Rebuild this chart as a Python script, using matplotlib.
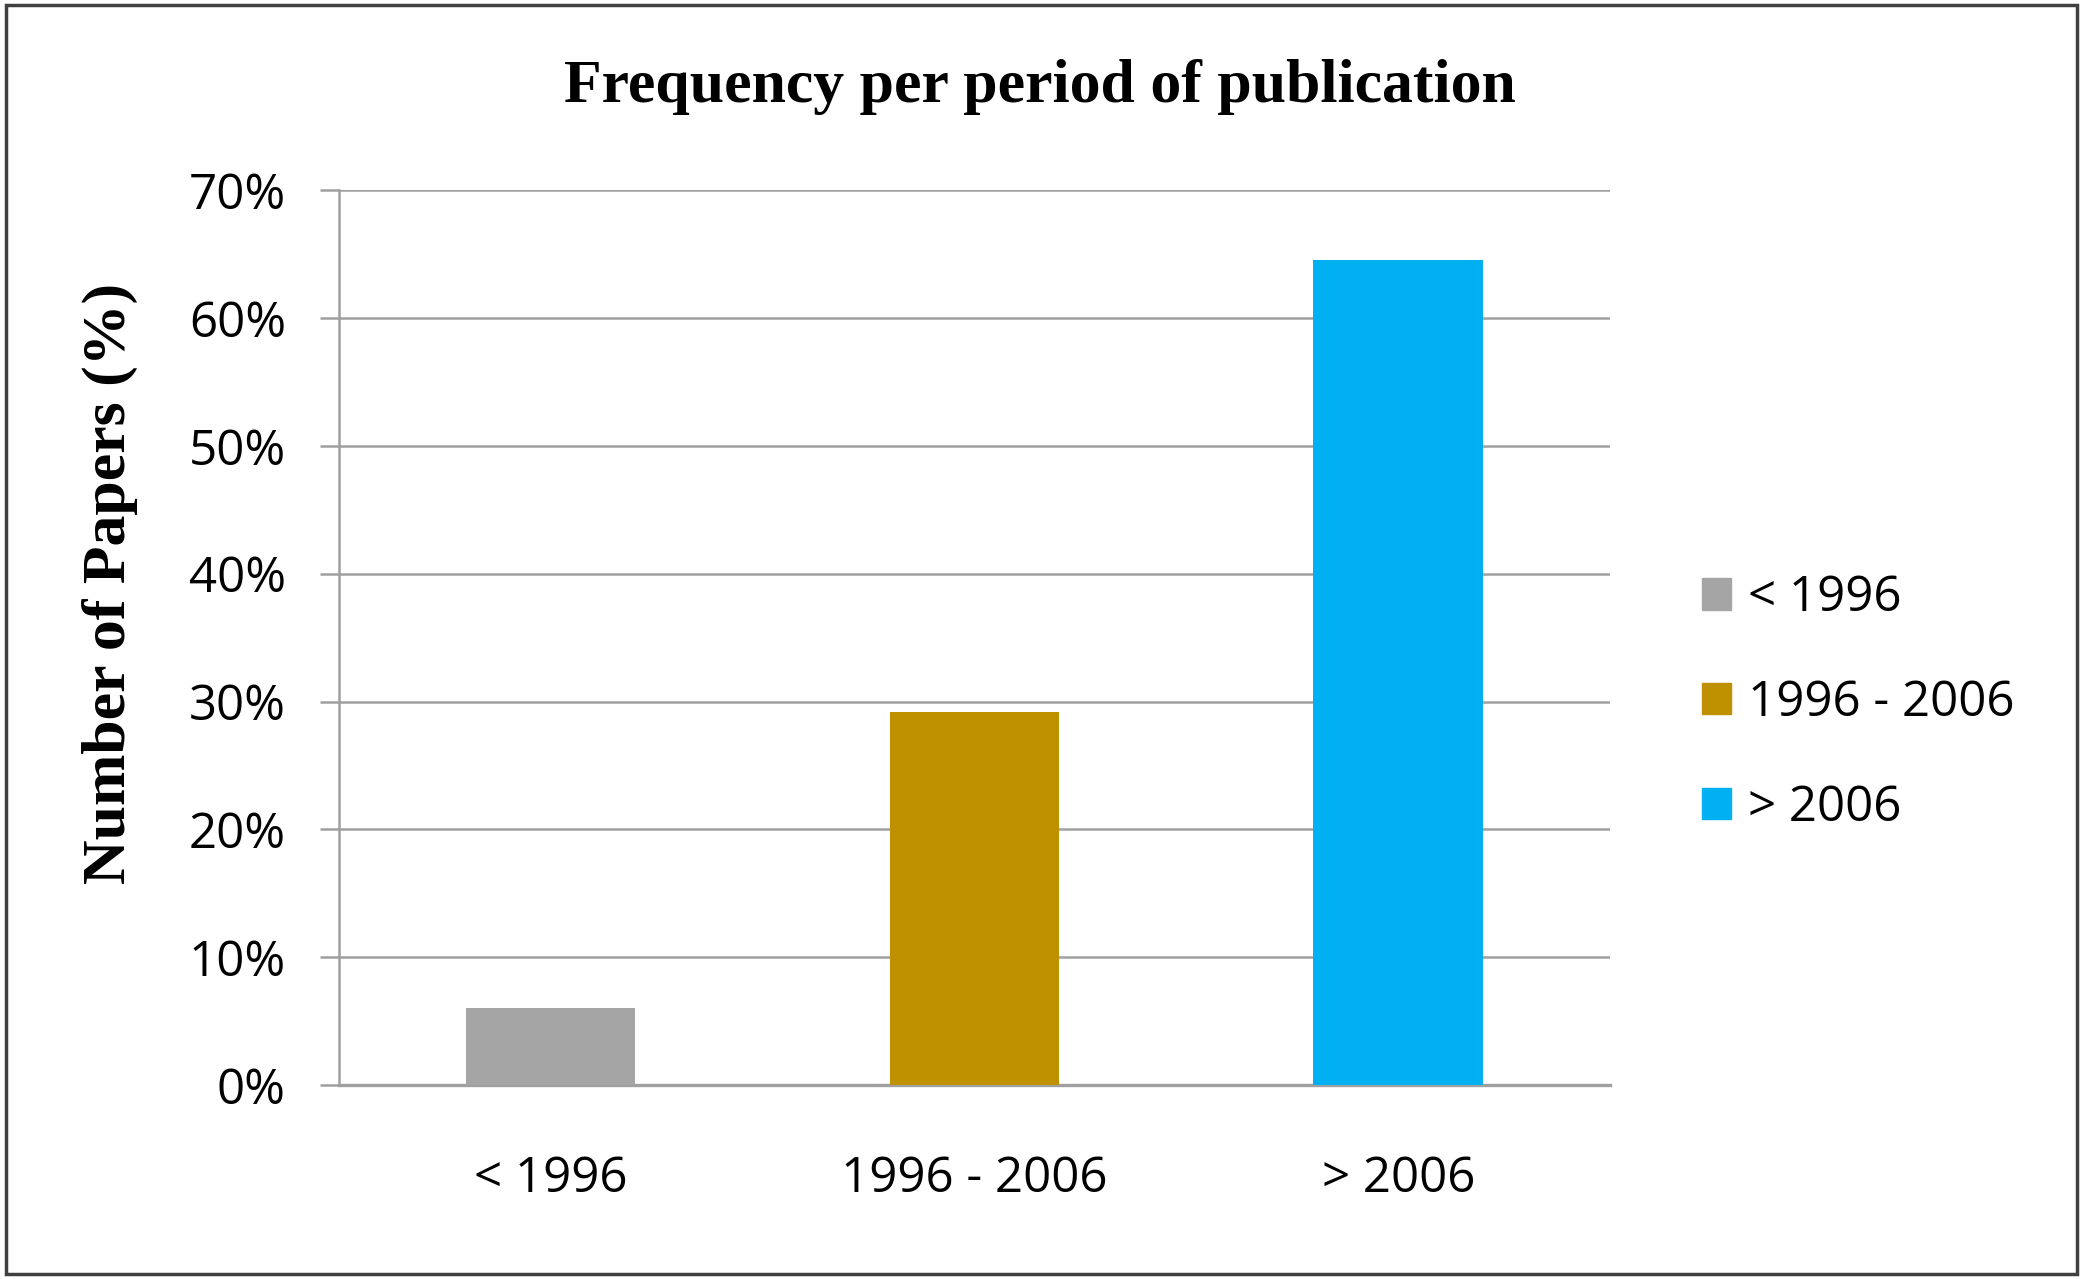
import matplotlib
matplotlib.use("Agg")
import matplotlib.pyplot as plt
from matplotlib.patches import Rectangle
from matplotlib.ticker import FuncFormatter

categories = ["< 1996", "1996 - 2006", "> 2006"]
values = [6.0, 29.2, 64.5]
colors = ["#A5A5A5", "#BF9000", "#00B0F0"]
yticks = [0, 10, 20, 30, 40, 50, 60, 70]

fig = plt.figure(figsize=(20.83, 12.79), dpi=100)
ax = fig.add_axes([0.1626, 0.1516, 0.773 - 0.1626, 0.8514 - 0.1516])

x = range(len(categories))
bars = ax.bar(x, values, width=0.4, color=colors, zorder=3, label=None)

ax.set_xlim(-0.5, len(categories) - 0.5)
ax.set_ylim(0, 70)
ax.set_yticks(yticks)
ax.yaxis.set_major_formatter(FuncFormatter(lambda v, p: f"{int(v)}%"))
ax.set_xticks(list(x))
ax.set_xticklabels(categories)

grid_c = "#A0A0A0"
ax.grid(axis="y", color=grid_c, linewidth=1.8, zorder=0)
for s in ["top", "right"]:
    ax.spines[s].set_visible(False)
ax.spines["left"].set_color(grid_c)
ax.spines["left"].set_linewidth(1.8)
ax.spines["bottom"].set_color(grid_c)
ax.spines["bottom"].set_linewidth(2.4)

tick_font = "Open Sans"
ax.tick_params(axis="y", length=14, width=1.8, color=grid_c, pad=24,
               labelsize=35.5, labelcolor="black")
ax.tick_params(axis="x", length=0, pad=50, labelsize=35.5, labelcolor="black")
for lab in ax.get_xticklabels() + ax.get_yticklabels():
    lab.set_family(tick_font)

handles = [Rectangle((0, 0), 1, 1, color=c) for c in colors]
leg = fig.legend(handles, categories, loc="center left",
                 bbox_to_anchor=(0.8075, 0.450), frameon=False,
                 prop={"family": tick_font, "size": 35.5},
                 handlelength=0.6, handleheight=0.6, handletextpad=0.33,
                 labelspacing=1.12, borderaxespad=0)

fig.text(0.499, 0.932, "Frequency per period of publication",
         ha="center", va="center", family="Liberation Serif",
         fontweight="bold", fontsize=44.5)
fig.text(0.053, 0.544, "Number of Papers (%)", rotation=90,
         ha="center", va="center", family="Liberation Serif",
         fontweight="bold", fontsize=44.5)

fig.patches.append(Rectangle((0.003, 0.004), 0.994, 0.992, transform=fig.transFigure,
                             fill=False, edgecolor="#404040", linewidth=2.5))

fig.savefig("out.png", dpi=100, facecolor="white")
